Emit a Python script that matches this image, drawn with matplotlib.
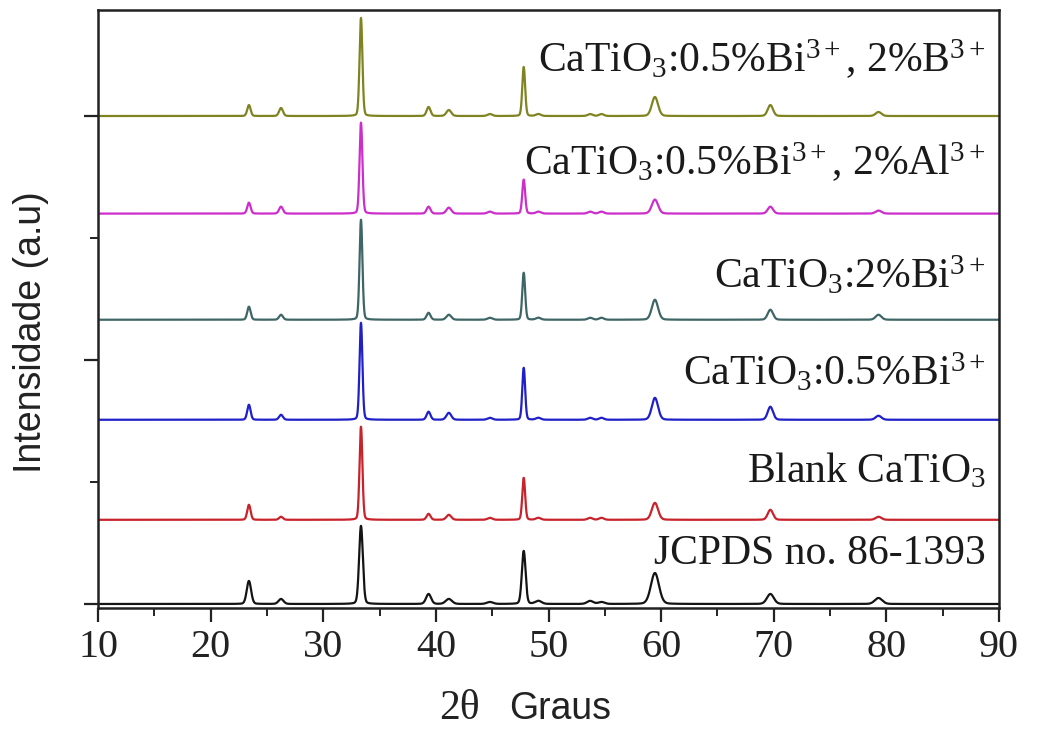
import numpy as np
import matplotlib
matplotlib.use("Agg")
import matplotlib.pyplot as plt
from matplotlib.ticker import MultipleLocator

plt.rcParams['mathtext.fontset'] = 'custom'
plt.rcParams['mathtext.rm'] = 'Liberation Serif'
plt.rcParams['mathtext.it'] = 'Liberation Serif:italic'
plt.rcParams['mathtext.bf'] = 'Liberation Serif:bold'

# ---- data ----
peak_pos = [23.4, 26.25, 33.35, 39.35, 41.15, 44.8, 47.8, 49.1, 53.7, 54.7, 59.45, 69.7, 79.3]
peak_fwhm = [0.35, 0.4, 0.3, 0.4, 0.5, 0.5, 0.3, 0.5, 0.5, 0.5, 0.65, 0.55, 0.6]

labels = [
    'JCPDS no. 86-1393',
    'Blank CaTiO$_3$',
    'CaTiO$_3$:0.5%Bi$^{3+}$',
    'CaTiO$_3$:2%Bi$^{3+}$',
    'CaTiO$_3$:0.5%Bi$^{3+}$, 2%Al$^{3+}$',
    'CaTiO$_3$:0.5%Bi$^{3+}$, 2%B$^{3+}$',
]
colors = ['#141414', '#c8222a', '#2020c8', '#3f6666', '#cc2ecc', '#7f8420']
offsets = [0, 690, 1510, 2330, 3200, 4000]

h_jcpds = [189, 41, 640, 82, 41, 16, 435, 25, 25, 16, 254, 82, 49]
h_blank = [123, 25, 763, 49, 41, 16, 344, 16, 16, 16, 139, 82, 25]
h_bi05 = [123, 41, 795, 66, 57, 16, 426, 16, 16, 16, 180, 107, 33]
h_bi2 = [107, 41, 820, 57, 41, 16, 385, 16, 16, 16, 164, 82, 41]
h_al = [90, 57, 746, 57, 49, 16, 279, 16, 16, 16, 115, 57, 25]
h_b = [90, 66, 804, 74, 49, 16, 402, 16, 16, 16, 156, 90, 33]
heights = [h_jcpds, h_blank, h_bi05, h_bi2, h_al, h_b]
width_scale = [1.3, 1.0, 1.0, 1.0, 1.0, 1.0]

label_baselines = [328, 1000, 1796, 2591, 3518, 4362]

xticks = [10, 20, 30, 40, 50, 60, 70, 80, 90]

# ---- figure ----
fig = plt.figure(figsize=(10.37, 7.31), dpi=100)
ax = fig.add_axes([98 / 1037, 1 - 608 / 731, (999 - 98) / 1037, (608 - 10) / 731])

two_theta = np.linspace(10, 90, 8001)


def pattern(hs, ws):
    y = np.zeros_like(two_theta)
    for p, w, h in zip(peak_pos, peak_fwhm, hs):
        fw = w * ws
        sig = fw / 2.3548
        g = np.exp(-0.5 * ((two_theta - p) / sig) ** 2)
        l = 1.0 / (1.0 + ((two_theta - p) / (fw / 2)) ** 2)
        y += h * (0.85 * g + 0.15 * l)
    return y


for hs, ws, off, col in zip(heights, width_scale, offsets, colors):
    ax.plot(two_theta, pattern(hs, ws) + off, color=col, lw=1.6)

for lab, yb in zip(labels, label_baselines):
    ax.text(88.8, yb, lab, ha='right', va='baseline', fontsize=30,
            family='Liberation Serif', color='#1a1a1a')

ax.set_xlim(10, 90)
ax.set_ylim(-33, 4869)
ax.set_xticks(xticks)
ax.set_xticklabels([str(t) for t in xticks], fontsize=29, family='Liberation Serif',
                   color='#222222')
ax.xaxis.set_minor_locator(MultipleLocator(5))
ax.yaxis.set_major_locator(MultipleLocator(2000))
ax.yaxis.set_minor_locator(MultipleLocator(1000))
ax.set_yticklabels([])
ax.tick_params(axis='both', which='major', direction='out', length=10, width=1.6,
               pad=5, color='#222222')
ax.tick_params(axis='both', which='minor', direction='out', length=6, width=1.4,
               color='#222222')
ax.tick_params(top=False, right=False)
for s in ax.spines.values():
    s.set_linewidth(1.8)
    s.set_color('#222222')

fig.text(459 / 1037, 1 - 709 / 731, '2θ', ha='center', va='center', fontsize=30,
         family='Liberation Serif', color='#222222')
fig.text(560 / 1037, 1 - 709 / 731, 'Graus', ha='center', va='center', fontsize=27,
         family='Liberation Sans', color='#222222')
fig.text(31 / 1037, 1 - 332 / 731, 'Intensidade (a.u)', ha='center', va='center',
         rotation=90, fontsize=27, family='Liberation Sans', color='#222222')

fig.savefig('out.png', dpi=100)
